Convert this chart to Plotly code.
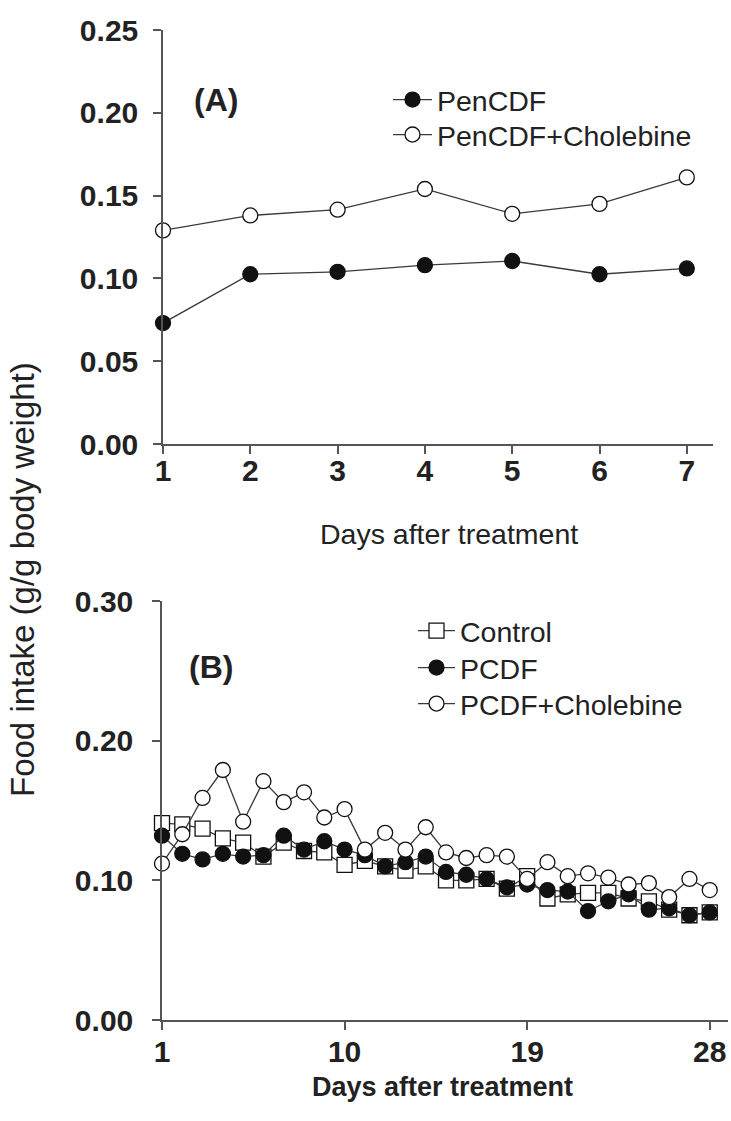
import plotly.graph_objects as go

# Panel A data
days_a = [1, 2, 3, 4, 5, 6, 7]
pencdf = [0.073, 0.1025, 0.104, 0.108, 0.1105, 0.1025, 0.106]
pencdf_chol = [0.129, 0.138, 0.1415, 0.154, 0.139, 0.145, 0.161]

# Panel B data
days_b = list(range(1, 29))
control = [0.141, 0.140, 0.137, 0.130, 0.127, 0.117, 0.127, 0.121, 0.120, 0.111,
           0.114, 0.110, 0.107, 0.110, 0.100, 0.100, 0.101, 0.094, 0.103, 0.087,
           0.090, 0.091, 0.091, 0.087, 0.085, 0.079, 0.075, 0.077]
pcdf = [0.132, 0.119, 0.115, 0.119, 0.117, 0.118, 0.132, 0.122, 0.128, 0.122,
        0.118, 0.110, 0.113, 0.117, 0.106, 0.104, 0.101, 0.095, 0.097, 0.093,
        0.092, 0.078, 0.085, 0.090, 0.079, 0.080, 0.075, 0.077]
pcdf_chol = [0.112, 0.133, 0.159, 0.179, 0.142, 0.171, 0.156, 0.163, 0.145, 0.151,
             0.122, 0.134, 0.122, 0.138, 0.120, 0.116, 0.118, 0.117, 0.101, 0.113,
             0.103, 0.105, 0.102, 0.097, 0.098, 0.088, 0.101, 0.093]

yticks_a = [0.0, 0.05, 0.10, 0.15, 0.20, 0.25]
yticklabels_a = ["0.00", "0.05", "0.10", "0.15", "0.20", "0.25"]
yticks_b = [0.0, 0.10, 0.20, 0.30]
yticklabels_b = ["0.00", "0.10", "0.20", "0.30"]
xticks_b = [1, 10, 19, 28]

W, H = 731, 1121
FONT = "Liberation Sans, Arial, sans-serif"
LINE = "#3a3a3a"
TXT = "#222222"

def px_x(p):
    return p / W

def px_y(p):
    return 1 - p / H

fig = go.Figure()

def add(x, y, name, symbol, fill, xa, ya, legend):
    fig.add_trace(go.Scatter(
        x=x, y=y, name=name, mode="lines+markers",
        line=dict(color=LINE, width=1.3),
        marker=dict(symbol=symbol, size=15, color=fill,
                    line=dict(color="#111111", width=1.3)),
        xaxis=xa, yaxis=ya, legend=legend,
        cliponaxis=False,
    ))

add(days_a, pencdf, "PenCDF", "circle", "#111111", "x", "y", "legend")
add(days_a, pencdf_chol, "PenCDF+Cholebine", "circle", "white", "x", "y", "legend2")
add(days_b, control, "Control", "square", "white", "x2", "y2", "legend3")
add(days_b, pcdf, "PCDF", "circle", "#111111", "x2", "y2", "legend4")
add(days_b, pcdf_chol, "PCDF+Cholebine", "circle", "white", "x2", "y2", "legend5")

tickfont = dict(family=FONT, size=30, color=TXT)
axis_common = dict(showline=True, linecolor="#555555", linewidth=1.5,
                   ticks="outside", ticklen=8, tickwidth=1.5, tickcolor="#555555",
                   showgrid=False, zeroline=False, tickfont=tickfont, mirror=False,
                   automargin=False)

def legend_at(xpx, ypx, iw):
    return dict(x=px_x(xpx), y=px_y(ypx), xanchor="left", yanchor="middle",
                font=dict(family=FONT, size=28.5, color=TXT),
                bgcolor="rgba(0,0,0,0)", itemwidth=iw)

fig.update_layout(
    template="none",
    width=W, height=H, margin=dict(l=0, r=0, t=0, b=0, pad=0),
    autosize=False,
    paper_bgcolor="white", plot_bgcolor="white",
    font=dict(family=FONT, color=TXT),
    xaxis=dict(domain=[px_x(163), px_x(713)], range=[1, 7.3], tickvals=days_a,
               ticktext=["<b>%d</b>" % d for d in days_a], anchor="y",
               ticklabelstandoff=-9, **axis_common),
    yaxis=dict(domain=[px_y(444), px_y(30)], range=[0, 0.25], tickvals=yticks_a,
               ticktext=["<b>%s</b>" % t for t in yticklabels_a], anchor="x",
               ticklabelstandoff=9, **axis_common),
    xaxis2=dict(domain=[px_x(162), px_x(728)], range=[1, 28.9], tickvals=xticks_b,
                ticktext=["<b>%d</b>" % d for d in xticks_b], anchor="y2",
                ticklabelstandoff=-4, **axis_common),
    yaxis2=dict(domain=[px_y(1020), px_y(601)], range=[0, 0.30], tickvals=yticks_b,
                ticktext=["<b>%s</b>" % t for t in yticklabels_b], anchor="x2",
                ticklabelstandoff=13, **axis_common),
    legend=legend_at(388, 100, 39),
    legend2=legend_at(388, 135, 39),
    legend3=legend_at(413, 631, 37),
    legend4=legend_at(413, 668, 37),
    legend5=legend_at(413, 704, 37),
    showlegend=True,
)

labels = [
    dict(text="<b>(A)</b>", x=px_x(216), y=px_y(100), size=32),
    dict(text="<b>(B)</b>", x=px_x(211), y=px_y(667), size=32),
    dict(text="Days after treatment", x=px_x(449), y=px_y(534), size=28.5),
    dict(text="<b>Days after treatment</b>", x=px_x(442), y=px_y(1087), size=27),
]
for a in labels:
    fig.add_annotation(xref="paper", yref="paper", showarrow=False,
                       xanchor="center", yanchor="middle", text=a["text"],
                       x=a["x"], y=a["y"],
                       font=dict(family=FONT, size=a["size"], color=TXT))

fig.add_annotation(xref="paper", yref="paper", showarrow=False,
                   text="Food intake (g/g body weight)", textangle=-90,
                   x=px_x(22), y=px_y(580), xanchor="center", yanchor="middle",
                   font=dict(family=FONT, size=33, color=TXT))

fig.write_html("out.html")
